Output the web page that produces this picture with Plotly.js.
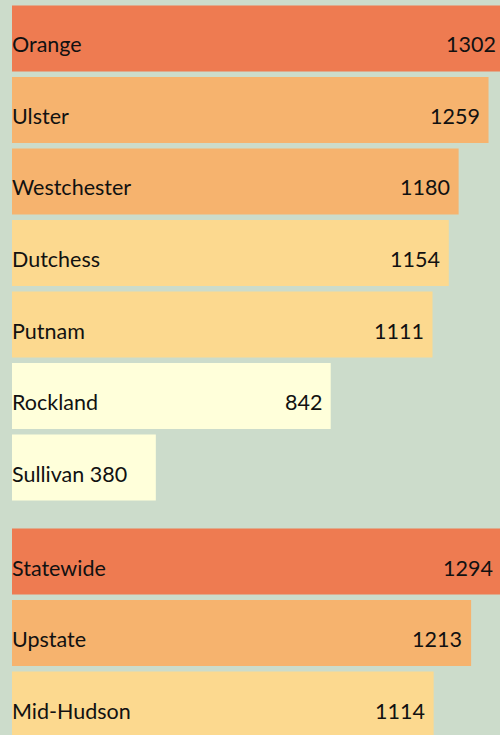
<!DOCTYPE html>
<html>
<head>
<meta charset="utf-8">
<script src="https://cdn.plot.ly/plotly-3.0.1.min.js"></script>
<style>html,body{margin:0;padding:0;background:#CCDCCB;overflow:hidden;width:500px;height:735px;}</style>
</head>
<body>
<div id="chart" style="width:520px;height:735px;"></div>
<script>
// Counties (top group)
const topCats = ['Orange','Ulster','Westchester','Dutchess','Putnam','Rockland','Sullivan'];
const topVals = [1302,1259,1180,1154,1111,842,380];
// Regions (bottom group)
const botCats = ['Statewide','Upstate','Mid-Hudson'];
const botVals = [1294,1213,1114];

// Colour per bar (style, kept separate from data)
const topColors = ['#EE7B51','#F6B36E','#F6B36E','#FCD98F','#FCD98F','#FFFFDA','#FFFFDA'];
const botColors = ['#EE7B51','#F6B36E','#FCD98F'];

const FONT = {family:'Lato, sans-serif', size:21.5, color:'#111111'};
const BG = '#CCDCCB';

const traces = [
  {type:'bar', orientation:'h', x:topVals, y:topCats, xaxis:'x', yaxis:'y',
   marker:{color:topColors, line:{width:0}}, hoverinfo:'skip'},
  {type:'bar', orientation:'h', x:botVals, y:botCats, xaxis:'x2', yaxis:'y2',
   marker:{color:botColors, line:{width:0}}, hoverinfo:'skip'}
];

const annotations = [];
function addLabels(cats, vals, xr, yr){
  cats.forEach((c,i)=>{
    const short = vals[i] < 500;
    annotations.push({xref:xr, yref:yr, x:0, y:c, text: short ? (c+' '+vals[i]) : c,
      xanchor:'left', yanchor:'middle', showarrow:false, font:FONT, yshift:-6, xshift:-2});
    if(!short){
      annotations.push({xref:xr, yref:yr, x:vals[i], y:c, text:String(vals[i]),
        xanchor:'right', yanchor:'middle', showarrow:false, font:FONT, yshift:-6, xshift:-7});
    }
  });
}
addLabels(topCats, topVals, 'x', 'y');
addLabels(botCats, botVals, 'x2', 'y2');

const W = 520, H = 735, P = 71.5, SCALE = 0.3785;
const xMax = (W - 12) / SCALE;
const topStart = 2.75, topEnd = topStart + P*topCats.length;
const botStart = 525.75;
const botUnits = (H - botStart)/P;

const layout = {
  width:W, height:H,
  margin:{l:12, r:0, t:0, b:0},
  paper_bgcolor:BG, plot_bgcolor:BG,
  showlegend:false,
  bargap:0.075,
  xaxis:{domain:[0,1], range:[0,xMax], visible:false, anchor:'y', fixedrange:true},
  yaxis:{domain:[1-topEnd/H, 1-topStart/H], type:'category', categoryarray:topCats,
         range:[topCats.length-0.5, -0.5], visible:false, anchor:'x', fixedrange:true},
  xaxis2:{domain:[0,1], range:[0,xMax], visible:false, anchor:'y2', fixedrange:true},
  yaxis2:{domain:[0, (H-botStart)/H], type:'category', categoryarray:botCats,
          range:[botUnits-0.5, -0.5], visible:false, anchor:'x2', fixedrange:true},
  annotations:annotations
};

Plotly.newPlot('chart', traces, layout, {displayModeBar:false, staticPlot:true});
</script>
</body>
</html>
